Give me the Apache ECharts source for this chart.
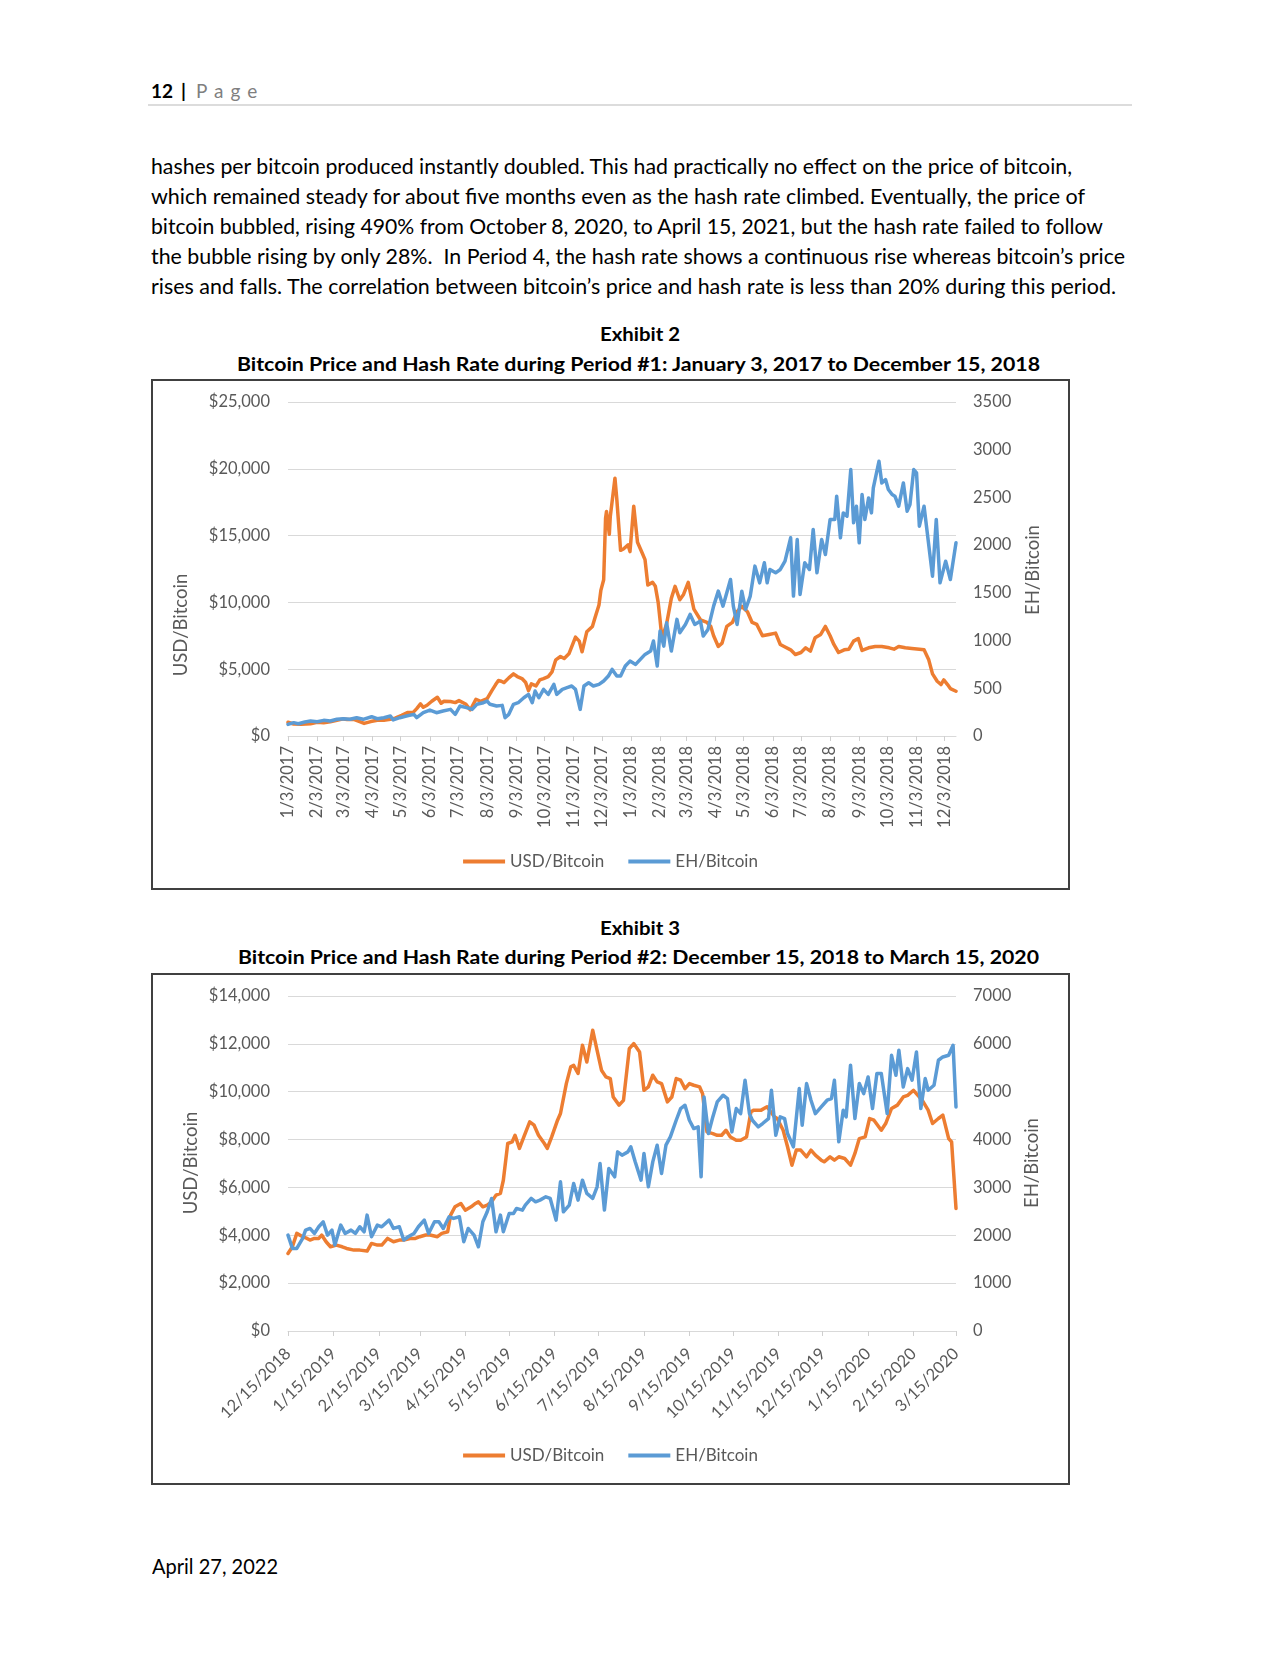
<!DOCTYPE html>
<html><head><meta charset="utf-8">
<script src="https://cdn.jsdelivr.net/npm/echarts@6/dist/echarts.min.js"></script>
<style>
html,body{margin:0;padding:0;background:#fff;}
#page{position:relative;width:1280px;height:1656px;overflow:hidden;font-family:Lato,'Liberation Sans',sans-serif;color:#000;background:#fff;}
.t{position:absolute;white-space:nowrap;transform-origin:0 0;}
.box{position:absolute;border:2px solid #404040;box-sizing:border-box;pointer-events:none;}
.chart{position:absolute;}
.rule{position:absolute;left:148px;top:104px;width:984px;height:2px;background:#dcdcdc;}
</style></head>
<body><div id="page">
<div class="t" data-x="151" data-b="98" data-fs="19" data-fw="bold">12</div>
<div class="t" data-x="181" data-b="98" data-fs="19" data-fw="bold">|</div>
<div class="t" data-x="196" data-b="98" data-fs="19" style="color:#7f7f7f;letter-spacing:7px">Page</div>
<div class="rule"></div>
<div class="t" data-x="151" data-b="174" data-fs="20.5" data-w="921">hashes per bitcoin produced instantly doubled. This had practically no effect on the price of bitcoin,</div>
<div class="t" data-x="151" data-b="204" data-fs="20.5" data-w="934">which remained steady for about five months even as the hash rate climbed. Eventually, the price of</div>
<div class="t" data-x="151" data-b="234" data-fs="20.5" data-w="952">bitcoin bubbled, rising 490% from October 8, 2020, to April 15, 2021, but the hash rate failed to follow</div>
<div class="t" data-x="151" data-b="264" data-fs="20.5" data-w="974">the bubble rising by only 28%.&nbsp; In Period 4, the hash rate shows a continuous rise whereas bitcoin’s price</div>
<div class="t" data-x="151" data-b="294" data-fs="20.5" data-w="965">rises and falls. The correlation between bitcoin’s price and hash rate is less than 20% during this period.</div>
<div class="t" data-cx="640" data-b="341" data-fs="19.5" data-fw="bold" data-w="80">Exhibit 2</div>
<div class="t" data-cx="638.5" data-b="371" data-fs="19.5" data-fw="bold" data-w="803">Bitcoin Price and Hash Rate during Period #1: January 3, 2017 to December 15, 2018</div>
<div id="c1" class="chart" style="left:151px;top:379px;width:919px;height:511px"></div>
<div class="box" style="left:151px;top:379px;width:919px;height:511px"></div>
<div class="t" data-cx="640" data-b="935" data-fs="19.5" data-fw="bold" data-w="80">Exhibit 3</div>
<div class="t" data-cx="638.5" data-b="964" data-fs="19.5" data-fw="bold" data-w="801">Bitcoin Price and Hash Rate during Period #2: December 15, 2018 to March 15, 2020</div>
<div id="c2" class="chart" style="left:151px;top:973px;width:919px;height:512px"></div>
<div class="box" style="left:151px;top:973px;width:919px;height:512px"></div>
<div class="t" data-x="152" data-b="1574" data-fs="20.5" data-w="126">April 27, 2022</div>
</div>
<script>
// ---------- Exhibit 2 data (Period #1) ----------
const tickLabels1 = ['1/3/2017','2/3/2017','3/3/2017','4/3/2017','5/3/2017','6/3/2017','7/3/2017','8/3/2017','9/3/2017','10/3/2017','11/3/2017','12/3/2017',
  '1/3/2018','2/3/2018','3/3/2018','4/3/2018','5/3/2018','6/3/2018','7/3/2018','8/3/2018','9/3/2018','10/3/2018','11/3/2018','12/3/2018'];
const usdDates1 = ['1/3/2017','1/9/2017','1/17/2017','1/27/2017','2/3/2017','2/10/2017','2/17/2017','2/24/2017','3/3/2017','3/7/2017',
  '3/14/2017','3/21/2017','3/25/2017','4/1/2017','4/8/2017','4/15/2017','4/22/2017','4/27/2017','5/4/2017','5/10/2017',
  '5/16/2017','5/20/2017','5/24/2017','5/27/2017','5/31/2017','6/5/2017','6/11/2017','6/15/2017','6/18/2017','6/25/2017',
  '6/30/2017','7/4/2017','7/11/2017','7/16/2017','7/22/2017','7/27/2017','8/3/2017','8/8/2017','8/12/2017','8/15/2017',
  '8/18/2017','8/21/2017','8/26/2017','8/31/2017','9/4/2017','9/9/2017','9/13/2017','9/16/2017','9/19/2017','9/24/2017',
  '9/28/2017','10/2/2017','10/7/2017','10/11/2017','10/15/2017','10/20/2017','10/24/2017','10/29/2017','11/5/2017','11/9/2017',
  '11/12/2017','11/17/2017','11/23/2017','11/26/2017','11/30/2017','12/2/2017','12/5/2017','12/7/2017','12/8/2017','12/11/2017',
  '12/12/2017','12/17/2017','12/19/2017','12/23/2017','12/26/2017','12/28/2017','12/31/2017','1/2/2018','1/6/2018','1/10/2018',
  '1/15/2018','1/18/2018','1/21/2018','1/26/2018','1/29/2018','2/1/2018','2/3/2018','2/5/2018','2/10/2018','2/15/2018',
  '2/19/2018','2/24/2018','2/28/2018','3/5/2018','3/11/2018','3/18/2018','3/25/2018','3/29/2018','4/1/2018','4/6/2018',
  '4/10/2018','4/15/2018','4/21/2018','4/26/2018','5/1/2018','5/7/2018','5/12/2018','5/17/2018','5/23/2018','5/30/2018',
  '6/6/2018','6/11/2018','6/15/2018','6/22/2018','6/27/2018','7/3/2018','7/8/2018','7/13/2018','7/18/2018','7/24/2018',
  '7/29/2018','8/3/2018','8/7/2018','8/12/2018','8/18/2018','8/23/2018','8/28/2018','9/2/2018','9/6/2018','9/13/2018',
  '9/20/2018','9/27/2018','10/5/2018','10/10/2018','10/15/2018','10/22/2018','10/29/2018','11/6/2018','11/11/2018','11/16/2018',
  '11/20/2018','11/25/2018','11/29/2018','12/2/2018','12/6/2018','12/9/2018','12/15/2018'];
const usd1 = [1030,900,880,920,1020,1000,1060,1170,1280,1240,
  1240,1050,940,1080,1180,1180,1250,1340,1550,1750,
  1750,2050,2400,2150,2300,2600,2900,2450,2600,2580,
  2500,2650,2400,1950,2750,2600,2800,3400,3850,4150,
  4100,4000,4350,4650,4450,4300,4000,3400,3900,3750,
  4200,4300,4450,4800,5700,5950,5800,6150,7400,7100,
  6300,7800,8200,8900,9800,10900,11700,16300,16800,15100,
  16400,19300,17700,13900,14000,13900,14300,13800,17200,14500,
  13700,13200,11300,11500,11200,10000,8700,7300,8400,10300,
  11200,10200,10600,11500,9500,8700,8500,8200,7500,6700,
  6950,8200,8500,9300,9700,9300,8500,8350,7500,7600,
  7700,6850,6700,6450,6100,6250,6600,6350,7350,7600,
  8200,7500,6850,6250,6450,6500,7100,7300,6400,6600,
  6700,6700,6600,6500,6700,6600,6550,6500,6450,5700,
  4650,4100,3850,4200,3850,3550,3350];
const ehDates1 = ['1/3/2017','1/5/2017','1/9/2017','1/14/2017','1/21/2017','1/27/2017','2/3/2017','2/10/2017','2/17/2017','2/24/2017',
  '3/3/2017','3/10/2017','3/17/2017','3/24/2017','4/2/2017','4/8/2017','4/15/2017','4/22/2017','4/25/2017','5/2/2017',
  '5/9/2017','5/17/2017','5/20/2017','5/27/2017','6/3/2017','6/10/2017','6/17/2017','6/25/2017','6/30/2017','7/5/2017',
  '7/12/2017','7/18/2017','7/23/2017','7/30/2017','8/3/2017','8/6/2017','8/13/2017','8/19/2017','8/22/2017','8/26/2017',
  '8/31/2017','9/5/2017','9/11/2017','9/16/2017','9/20/2017','9/23/2017','9/27/2017','10/2/2017','10/7/2017','10/13/2017',
  '10/16/2017','10/22/2017','10/27/2017','11/1/2017','11/5/2017','11/10/2017','11/14/2017','11/19/2017','11/24/2017','11/30/2017',
  '12/5/2017','12/10/2017','12/14/2017','12/19/2017','12/23/2017','12/28/2017','1/2/2018','1/8/2018','1/13/2018','1/18/2018',
  '1/24/2018','1/27/2018','1/31/2018','2/3/2018','2/7/2018','2/10/2018','2/15/2018','2/21/2018','2/24/2018','3/2/2018',
  '3/7/2018','3/12/2018','3/18/2018','3/21/2018','3/26/2018','4/1/2018','4/6/2018','4/11/2018','4/13/2018','4/19/2018',
  '4/22/2018','4/26/2018','5/1/2018','5/5/2018','5/10/2018','5/15/2018','5/20/2018','5/25/2018','5/28/2018','5/31/2018',
  '6/6/2018','6/11/2018','6/16/2018','6/22/2018','6/25/2018','6/29/2018','7/2/2018','7/7/2018','7/12/2018','7/16/2018',
  '7/20/2018','7/25/2018','7/29/2018','8/3/2018','8/8/2018','8/10/2018','8/14/2018','8/17/2018','8/21/2018','8/25/2018',
  '8/28/2018','8/31/2018','9/3/2018','9/6/2018','9/9/2018','9/13/2018','9/16/2018','9/18/2018','9/24/2018','9/27/2018',
  '10/1/2018','10/4/2018','10/8/2018','10/11/2018','10/15/2018','10/20/2018','10/24/2018','10/27/2018','10/31/2018','11/3/2018',
  '11/6/2018','11/11/2018','11/14/2018','11/20/2018','11/24/2018','11/28/2018','12/4/2018','12/9/2018','12/15/2018'];
const eh1 = [122,105,140,129,147,157,150,164,157,175,
  181,175,192,175,202,181,192,209,168,192,
  209,227,192,244,272,244,262,279,227,314,
  297,279,332,349,366,332,314,321,192,227,
  332,349,401,436,349,471,401,489,436,541,
  436,489,506,524,489,279,524,558,524,541,
  576,628,698,628,628,733,785,750,803,855,
  890,995,733,1100,942,1187,890,1222,1082,1169,
  1274,1169,1204,1047,1117,1361,1518,1361,1431,1640,
  1361,1169,1518,1326,1466,1780,1605,1815,1605,1745,
  1710,1745,1832,2077,1466,2059,1483,1815,1745,2164,
  1710,2059,1902,2269,2269,2513,2077,2338,2303,2792,
  2234,2408,2024,2530,2269,2495,2338,2600,2879,2652,
  2687,2583,2530,2513,2408,2652,2356,2426,2792,2757,
  2199,2408,2164,1675,2269,1605,1832,1640,2024];

// ---------- Exhibit 3 data (Period #2) ----------
const tickLabels2 = ['12/15/2018','1/15/2019','2/15/2019','3/15/2019','4/15/2019','5/15/2019','6/15/2019','7/15/2019',
  '8/15/2019','9/15/2019','10/15/2019','11/15/2019','12/15/2019','1/15/2020','2/15/2020','3/15/2020'];
const usdDates2 = ['12/15/2018','12/18/2018','12/21/2018','12/25/2018','12/28/2018','12/30/2018','1/2/2019','1/5/2019','1/7/2019','1/10/2019',
  '1/13/2019','1/17/2019','1/21/2019','1/24/2019','1/29/2019','2/2/2019','2/7/2019','2/10/2019','2/14/2019','2/17/2019',
  '2/21/2019','2/25/2019','3/1/2019','3/4/2019','3/9/2019','3/12/2019','3/15/2019','3/19/2019','3/22/2019','3/27/2019',
  '3/30/2019','4/3/2019','4/5/2019','4/8/2019','4/12/2019','4/15/2019','4/19/2019','4/22/2019','4/24/2019','4/27/2019',
  '4/30/2019','5/3/2019','5/6/2019','5/9/2019','5/11/2019','5/14/2019','5/17/2019','5/19/2019','5/22/2019','5/25/2019',
  '5/29/2019','6/1/2019','6/4/2019','6/8/2019','6/10/2019','6/13/2019','6/17/2019','6/19/2019','6/23/2019','6/26/2019',
  '6/28/2019','7/1/2019','7/4/2019','7/7/2019','7/11/2019','7/14/2019','7/17/2019','7/20/2019','7/23/2019','7/25/2019',
  '7/29/2019','8/1/2019','8/5/2019','8/8/2019','8/12/2019','8/15/2019','8/18/2019','8/21/2019','8/24/2019','8/27/2019',
  '8/31/2019','9/3/2019','9/6/2019','9/9/2019','9/12/2019','9/15/2019','9/18/2019','9/22/2019','9/24/2019','9/27/2019',
  '10/1/2019','10/4/2019','10/7/2019','10/10/2019','10/13/2019','10/17/2019','10/20/2019','10/24/2019','10/27/2019','10/29/2019',
  '11/3/2019','11/7/2019','11/12/2019','11/14/2019','11/18/2019','11/21/2019','11/24/2019','11/27/2019','11/30/2019','12/4/2019',
  '12/7/2019','12/10/2019','12/14/2019','12/16/2019','12/20/2019','12/23/2019','12/26/2019','12/30/2019','1/3/2020','1/6/2020',
  '1/9/2020','1/13/2020','1/16/2020','1/19/2020','1/24/2020','1/27/2020','1/31/2020','2/4/2020','2/8/2020','2/11/2020',
  '2/15/2020','2/18/2020','2/21/2020','2/25/2020','2/28/2020','3/3/2020','3/6/2020','3/10/2020','3/12/2020','3/15/2020'];
const usd2 = [3240,3520,4080,3940,3870,3800,3870,3870,4010,3730,
  3520,3590,3520,3450,3380,3380,3340,3660,3590,3590,
  3870,3730,3800,3800,3870,3870,3940,4010,4010,3940,
  4080,4150,4840,5190,5330,5050,5190,5330,5400,5190,
  5260,5400,5680,5750,6300,7835,7900,8180,7630,8110,
  8740,8600,8180,7835,7630,8110,8810,9090,10340,11040,
  11100,10760,11940,11240,12570,11730,10900,10620,10550,9780,
  9440,9640,11800,12010,11660,10060,10200,10690,10410,10340,
  9575,9780,10550,10480,10130,10340,10270,10200,9920,8320,
  8250,8180,8180,8390,8110,7975,7975,8110,9160,9230,
  9230,9370,8950,8880,8390,7700,6930,7560,7560,7280,
  7560,7350,7140,7070,7280,7140,7280,7210,6930,7420,
  8040,8110,8880,8810,8390,8670,9300,9440,9780,9850,
  10060,9850,9640,9230,8670,8880,9020,8040,7900,5120];
const ehDates2 = ['12/15/2018','12/18/2018','12/21/2018','12/25/2018','12/27/2018','12/30/2018','1/2/2019','1/5/2019','1/8/2019','1/11/2019',
  '1/14/2019','1/16/2019','1/20/2019','1/23/2019','1/27/2019','1/30/2019','2/2/2019','2/5/2019','2/7/2019','2/10/2019',
  '2/14/2019','2/17/2019','2/22/2019','2/25/2019','3/1/2019','3/4/2019','3/7/2019','3/11/2019','3/14/2019','3/18/2019',
  '3/21/2019','3/25/2019','3/28/2019','3/31/2019','4/4/2019','4/7/2019','4/11/2019','4/14/2019','4/17/2019','4/21/2019',
  '4/24/2019','4/27/2019','4/30/2019','5/3/2019','5/6/2019','5/9/2019','5/11/2019','5/15/2019','5/18/2019','5/20/2019',
  '5/24/2019','5/26/2019','5/30/2019','6/2/2019','6/5/2019','6/9/2019','6/12/2019','6/16/2019','6/19/2019','6/21/2019',
  '6/25/2019','6/28/2019','7/1/2019','7/4/2019','7/7/2019','7/11/2019','7/14/2019','7/16/2019','7/19/2019','7/22/2019',
  '7/26/2019','7/28/2019','7/31/2019','8/4/2019','8/6/2019','8/9/2019','8/13/2019','8/15/2019','8/18/2019','8/21/2019',
  '8/24/2019','8/27/2019','8/30/2019','9/2/2019','9/6/2019','9/9/2019','9/12/2019','9/15/2019','9/18/2019','9/21/2019',
  '9/23/2019','9/25/2019','9/28/2019','10/1/2019','10/4/2019','10/8/2019','10/11/2019','10/14/2019','10/17/2019','10/20/2019',
  '10/23/2019','10/26/2019','10/28/2019','11/1/2019','11/4/2019','11/8/2019','11/10/2019','11/13/2019','11/16/2019','11/19/2019',
  '11/21/2019','11/25/2019','11/29/2019','12/1/2019','12/4/2019','12/7/2019','12/10/2019','12/14/2019','12/18/2019','12/21/2019',
  '12/23/2019','12/26/2019','12/29/2019','12/31/2019','1/3/2020','1/6/2020','1/9/2020','1/12/2020','1/15/2020','1/18/2020',
  '1/21/2020','1/24/2020','1/28/2020','1/31/2020','2/3/2020','2/5/2020','2/8/2020','2/11/2020','2/14/2020','2/17/2020',
  '2/20/2020','2/23/2020','2/25/2020','2/29/2020','3/3/2020','3/6/2020','3/10/2020','3/13/2020','3/15/2020'];
const eh2 = [2004,1726,1726,1934,2108,2143,2039,2178,2282,2004,
  2108,1795,2213,2039,2108,2039,2178,2073,2421,1969,
  2213,2178,2317,2143,2178,1900,1969,2039,2178,2317,
  2039,2282,2282,2143,2387,2352,2387,1865,2143,2004,
  1760,2282,2491,2770,2073,2421,2073,2456,2456,2561,
  2526,2630,2770,2700,2735,2804,2770,2317,3117,2491,
  2630,3082,2735,3152,2874,2770,3013,3500,2526,3396,
  3222,3743,3674,3743,3848,3535,3152,3709,3013,3535,
  3883,3291,3883,4057,4404,4648,4717,4404,4230,4265,
  3222,4891,4126,4474,4787,4926,4856,4161,4648,4543,
  5239,4543,4404,4265,4335,4439,5031,4091,4474,4439,
  4126,3848,5065,4300,5170,4822,4543,4683,4822,4857,
  5239,3952,4613,4474,5553,4439,5170,4961,5309,4648,
  5379,5379,4543,5761,5344,5866,5100,5483,5240,5831,
  4648,5274,5031,5135,5657,5726,5761,5970,4683];

// ---------- helpers ----------
function dayCats(start, end){
  const a = start.split('/').map(Number), b = end.split('/').map(Number);
  let t = Date.UTC(a[2], a[0]-1, a[1]); const te = Date.UTC(b[2], b[0]-1, b[1]);
  const out = [];
  while (t <= te){ const d = new Date(t); out.push((d.getUTCMonth()+1)+'/'+d.getUTCDate()+'/'+d.getUTCFullYear()); t += 86400000; }
  return out;
}
const pairs = (ds, vs) => ds.map((d,i)=>[d, vs[i]]);
const GRAY = '#595959', GRID = '#d9d9d9', ORANGE = '#ED7D31', BLUE = '#5B9BD5';
function axisName(text, x, y){
  return {type:'text', x:x, y:y, rotation:Math.PI/2, silent:true,
    style:{text:text, font:'18.5px Lato', fill:GRAY, textAlign:'center', textVerticalAlign:'middle', align:'center', verticalAlign:'middle'}};
}
function makeOption(o){
  const tickSet = new Set(o.ticks);
  const show = (i, v) => tickSet.has(v);
  return {
    animation:false,
    textStyle:{fontFamily:'Lato'},
    grid:{left:137, width:668, top:23, height:o.h},
    legend:{data:['USD/Bitcoin','EH/Bitcoin'], top:469, left:'center', icon:'rect', itemWidth:42, itemHeight:4, itemGap:24,
      textStyle:{fontSize:17, color:GRAY, fontFamily:'Lato'}},
    xAxis:{type:'category', data:o.cats, boundaryGap:false,
      axisLine:{lineStyle:{color:GRID, width:1}},
      axisTick:{show:true, interval:show, length:5, lineStyle:{color:'#cfcfcf'}},
      axisLabel:{interval:show, rotate:o.rot, margin:o.margin, fontSize:16.5, color:GRAY, fontFamily:'Lato', hideOverlap:false},
      splitLine:{show:false}},
    yAxis:[
      {type:'value', min:0, max:o.usdMax, interval:o.usdStep,
        axisLabel:{formatter:v=>'$'+v.toLocaleString('en-US'), fontSize:16.5, color:GRAY, margin:18, fontFamily:'Lato'},
        splitLine:{lineStyle:{color:GRID, width:1}}, axisLine:{show:false}, axisTick:{show:false}},
      {type:'value', min:0, max:o.ehMax, interval:o.ehStep, position:'right',
        axisLabel:{formatter:v=>String(v), fontSize:16.5, color:GRAY, margin:17, fontFamily:'Lato'},
        splitLine:{show:false}, axisLine:{show:false}, axisTick:{show:false}}
    ],
    series:[
      {name:'USD/Bitcoin', type:'line', yAxisIndex:0, data:o.usd, showSymbol:false, symbol:'none',
        lineStyle:{width:3.5, color:ORANGE, join:'round', cap:'round'}, itemStyle:{color:ORANGE}, z:2},
      {name:'EH/Bitcoin', type:'line', yAxisIndex:1, data:o.eh, showSymbol:false, symbol:'none',
        lineStyle:{width:3.5, color:BLUE, join:'round', cap:'round'}, itemStyle:{color:BLUE}, z:3}
    ],
    graphic:o.names
  };
}

const c1 = echarts.init(document.getElementById('c1'), null, {renderer:'canvas'});
c1.setOption(makeOption({
  cats: dayCats('1/3/2017','12/15/2018'), ticks: tickLabels1, rot:90, margin:10, h:334,
  usdMax:25000, usdStep:5000, ehMax:3500, ehStep:500,
  usd: pairs(usdDates1, usd1), eh: pairs(ehDates1, eh1),
  names:[axisName('USD/Bitcoin', 30, 246), axisName('EH/Bitcoin', 882, 191)]
}));
const c2 = echarts.init(document.getElementById('c2'), null, {renderer:'canvas'});
c2.setOption(makeOption({
  cats: dayCats('12/15/2018','3/15/2020'), ticks: tickLabels2, rot:45, margin:20, h:335,
  usdMax:14000, usdStep:2000, ehMax:7000, ehStep:1000,
  usd: pairs(usdDates2, usd2), eh: pairs(ehDates2, eh2),
  names:[axisName('USD/Bitcoin', 40, 190), axisName('EH/Bitcoin', 881, 190)]
}));

// ---------- page text placement ----------
function placeText(){
  const ctx = document.createElement('canvas').getContext('2d');
  document.querySelectorAll('.t').forEach(el=>{
    const fs = parseFloat(el.dataset.fs), fw = el.dataset.fw || 'normal';
    el.style.fontSize = fs + 'px'; el.style.fontWeight = fw; el.style.lineHeight = fs + 'px';
    ctx.font = fw + ' ' + fs + 'px Lato';
    const m = ctx.measureText('Hg');
    let A = m.fontBoundingBoxAscent, D = m.fontBoundingBoxDescent;
    if (!(A > 0)) { A = 0.987*fs; D = 0.213*fs; }
    const off = (fs - (A + D))/2 + A;
    el.style.transform = 'none';
    const w = el.getBoundingClientRect().width;
    let tw = el.dataset.w ? parseFloat(el.dataset.w) : w;
    if (el.dataset.w) el.style.transform = 'scaleX(' + (tw/w) + ')';
    el.style.top = (parseFloat(el.dataset.b) - off) + 'px';
    el.style.left = (el.dataset.cx ? parseFloat(el.dataset.cx) - tw/2 : parseFloat(el.dataset.x)) + 'px';
  });
}
placeText();
if (document.fonts && document.fonts.ready) document.fonts.ready.then(placeText);
</script>
</body></html>
